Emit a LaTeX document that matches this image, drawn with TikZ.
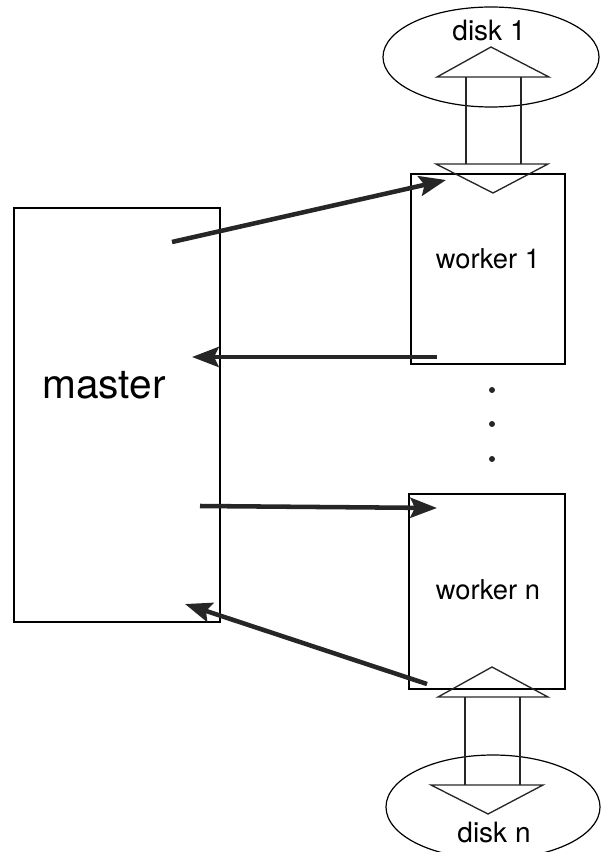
\documentclass[tikz,border=0pt]{standalone}
\usepackage{fontspec}
\setmainfont{TeX Gyre Heros}
\usetikzlibrary{arrows.meta}
\begin{document}
\begin{tikzpicture}[x=0.75pt,y=-0.75pt,
  box/.style={draw=black, line width=1.1pt, inner sep=0pt},
  lbl/.style={inner sep=0pt, text=black},
  msg/.style={draw=black!85, line width=3.4pt, -{Stealth[length=20pt,width=15pt,inset=3.5pt]}},
  blk/.style={draw=black!85, line width=1pt, line join=miter},
  dotm/.style={fill=black!85, circle, inner sep=0pt, minimum size=4.5pt}]
\useasboundingbox (0,0) rectangle (601,852);
% boxes
\node[box, minimum width=154.5pt, minimum height=310.5pt] (master) at (117,415) {};
\node[lbl, font=\fontsize{30.5}{36}\selectfont] (masterlbl) at (104,385) {master};
\node[box, minimum width=115.5pt, minimum height=142.5pt] (w1) at (488,269) {};
\node[lbl, font=\fontsize{20.5}{24}\selectfont] (w1lbl) at (488,259) {worker 1};
\node[box, minimum width=117pt, minimum height=146.25pt] (wn) at (487,591.5) {};
\node[lbl, font=\fontsize{20.5}{24}\selectfont] (wnlbl) at (488,590) {worker n};
% disks
\draw[line width=0.9pt] (491,57) ellipse [x radius=108, y radius=50];
\node[lbl, font=\fontsize{21}{24}\selectfont] (d1lbl) at (489,31) {disk 1};
\draw[line width=0.9pt] (493,807) ellipse [x radius=107, y radius=52];
\node[lbl, font=\fontsize{21}{24}\selectfont] (dnlbl) at (494,832) {disk n};
% block arrows top
\draw[blk] (437,77) -- (491,47) -- (549,77) -- cycle;
\draw[blk] (466,77) -- (466,164) (521,77) -- (521,164);
\draw[blk] (436,164) -- (548,164) -- (493,193) -- cycle;
% block arrows bottom
\draw[blk] (438,697) -- (492,667) -- (548,697) -- cycle;
\draw[blk] (465,697) -- (465,785) (520,697) -- (520,785);
\draw[blk] (431,785) -- (543,785) -- (488,814) -- cycle;
% dots
\node[dotm] (dot1) at (492,390) {};
\node[dotm] (dot2) at (492,424) {};
\node[dotm] (dot3) at (492,459) {};
% message arrows
\coordinate (a1s) at (172,242);
\coordinate (a1e) at (446,180);
\coordinate (a2s) at (437,357);
\coordinate (a2e) at (192,357);
\coordinate (a3s) at (200,506);
\coordinate (a3e) at (437,508);
\coordinate (a4s) at (427,684);
\coordinate (a4e) at (185,604);
\draw[msg] (a1s) -- (a1e);
\draw[msg] (a2s) -- (a2e);
\draw[msg] (a3s) -- (a3e);
\draw[msg] (a4s) -- (a4e);
\end{tikzpicture}
\end{document}
